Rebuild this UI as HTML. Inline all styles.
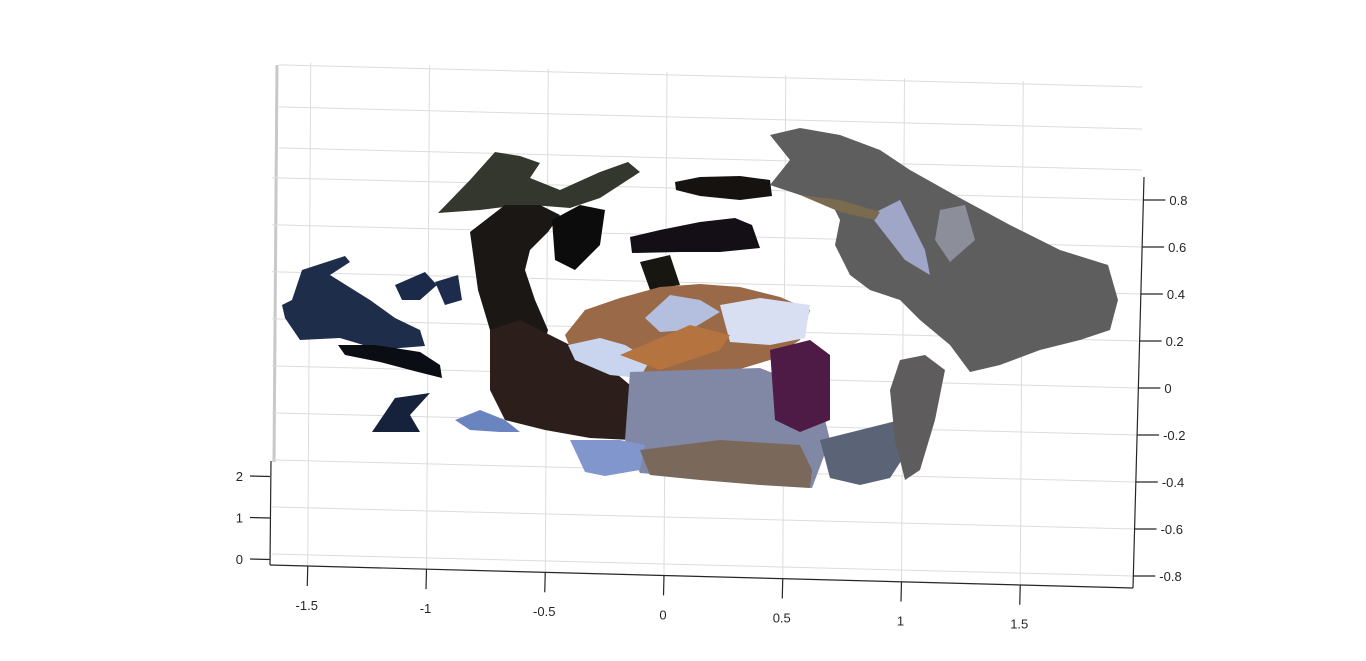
<!DOCTYPE html>
<html><head><meta charset="utf-8"><style>
html,body{margin:0;padding:0;background:#fff;}
svg{display:block;font-family:"Liberation Sans",sans-serif;}
</style></head><body>
<svg id="chart" width="1366" height="661" viewBox="0 0 1366 661">
<g id="grid"></g>
<g id="cloud">
  <!-- left navy cluster -->
  <polygon fill="#1e2d4a" points="302,270 345,256 350,262 330,275 370,300 395,318 420,330 425,346 400,348 380,350 340,338 300,340 285,318 282,305 292,300"/>
  <polygon fill="#0a0d14" points="338,345 375,345 420,352 440,365 442,378 418,372 380,362 345,355"/>
  <polygon fill="#1b2a48" points="395,285 425,272 437,285 420,300 402,300"/>
  <polygon fill="#1d2c4c" points="435,282 458,275 462,300 445,305"/>
  <polygon fill="#16223c" points="372,432 395,398 430,393 410,415 420,432"/>
  <!-- dark center-left structure -->
  <polygon fill="#34372e" points="438,213 470,180 495,152 520,156 540,163 530,178 560,190 600,172 628,162 640,172 600,198 570,208 545,206 520,205 480,210"/>
  <polygon fill="#1a1714" points="470,232 505,205 540,205 560,215 548,232 530,250 525,270 535,300 548,330 540,360 520,380 500,380 490,330 478,290"/>
  <polygon fill="#0c0c0c" points="552,220 580,205 605,210 600,245 575,270 555,260"/>
  <polygon fill="#2c1e1a" points="490,330 520,320 560,340 600,360 630,385 632,440 590,438 545,430 505,420 490,390"/>
  <polygon fill="#6a84c0" points="455,420 480,410 505,420 520,432 500,432 470,430"/>
  <!-- bands -->
  <polygon fill="#151210" points="675,182 700,177 740,176 770,180 772,196 740,200 700,196 676,190"/>
  <polygon fill="#140e16" points="630,237 660,230 700,222 735,218 752,225 760,248 720,252 680,252 632,253"/>
  <polygon fill="#181611" points="640,262 670,255 680,285 650,290"/>
  <!-- table -->
  <polygon fill="#9a6a48" points="565,335 585,310 620,298 660,287 700,284 740,287 780,297 810,310 800,340 770,360 730,372 690,378 650,378 610,372 575,360"/>
  <polygon fill="#c9d4ee" points="568,345 600,338 625,345 650,360 640,378 610,375 575,360"/>
  <polygon fill="#d8dff2" points="720,305 760,298 810,305 805,338 770,345 730,342"/>
  <polygon fill="#b4bfe0" points="645,318 670,295 700,300 720,312 690,330 660,332"/>
  <polygon fill="#b5733f" points="620,355 690,325 730,335 720,350 660,370"/>
  <!-- bottom gray-blue -->
  <polygon fill="#8088a6" points="630,372 690,370 760,368 790,380 820,400 830,440 812,488 760,484 700,478 640,473 625,440"/>
  <polygon fill="#8096cc" points="570,440 620,440 645,445 640,470 605,476 585,472"/>
  <polygon fill="#7a685a" points="640,450 720,440 800,445 812,470 810,488 760,485 700,480 650,475"/>
  <polygon fill="#4e1a46" points="770,350 810,340 830,355 830,420 800,432 775,420"/>
  <polygon fill="#5a6476" points="820,440 860,430 900,420 905,455 890,478 860,485 830,478"/>
  <!-- right plane -->
  <polygon fill="#5f5e5e" points="770,135 800,128 840,135 880,150 910,170 960,198 1010,225 1060,250 1108,265 1118,300 1110,330 1080,340 1040,350 1000,365 970,372 950,345 920,320 900,300 870,290 850,275 835,245 840,220 830,200 800,195 770,185 790,160"/>
  <polygon fill="#a0a6c8" points="870,215 900,200 925,250 930,275 905,260"/>
  <polygon fill="#8c8f99" points="940,210 965,205 975,240 950,262 935,240"/>
  <polygon fill="#5e5c5c" points="900,360 925,355 945,370 935,420 920,470 905,480 895,440 890,390"/>
  <polygon fill="#7a6a50" points="800,195 840,200 880,212 875,220 840,212"/>
</g>
<g id="axes"></g>
</svg>
<script>
const xTicks = [-1.5, -1, -0.5, 0, 0.5, 1, 1.5];
const xTickLabels = ["-1.5", "-1", "-0.5", "0", "0.5", "1", "1.5"];
const yTicks = [0.8, 0.6, 0.4, 0.2, 0, -0.2, -0.4, -0.6, -0.8];
const yTickLabels = ["0.8", "0.6", "0.4", "0.2", "0", "-0.2", "-0.4", "-0.6", "-0.8"];
const zTicks = [0, 1, 2];
const zTickLabels = ["0", "1", "2"];
const backGridRight = [87, 129, 170];

const NS = "http://www.w3.org/2000/svg";
function mk(tag, attrs, parent) {
  const e = document.createElementNS(NS, tag);
  for (const k in attrs) e.setAttribute(k, attrs[k]);
  parent.appendChild(e);
  return e;
}
// axis functions
function xPix(v) { return 664 + v * 237.5; }
function yPixRight(v) { return 388 - v * 235; }
function zPix(v) { return 559 - v * 41.5; }
function xAxisY(px) { return 565 + (px - 270) * 0.0263; }
function rightAxisX(py) { return 1144 - (py - 177) * 0.0268; }

const grid = document.getElementById('grid');
const axes = document.getElementById('axes');
const slope = 0.0256;
// left light gray wall line
const wl = mk('line', {x1: 277, y1: 65, x2: 274, y2: 462, stroke: '#c8c8c8', 'stroke-width': 3}, grid);


// horizontal grid from y ticks
yTicks.forEach(function (v) {
  const yr = yPixRight(v);
  const xr = rightAxisX(yr);
  const l = mk('line', {x1: 272, y1: yr - (xr - 272) * slope, x2: xr, y2: yr, stroke: '#dcdcdc', 'stroke-width': 1}, grid);
  
  
});
backGridRight.forEach(function (yr) {
  const l = mk('line', {x1: 279, y1: yr - (1142 - 279) * slope, x2: 1142, y2: yr, stroke: '#dcdcdc', 'stroke-width': 1}, grid);
  
  
});
// vertical grid
xTicks.forEach(function (v) {
  const xb = xPix(v);
  const l = mk('line', {x1: xb + 3, y1: 62 + (xb - 282) * 0.026, x2: xb, y2: xAxisY(xb), stroke: '#dcdcdc', 'stroke-width': 1}, grid);
  
  
});
// bottom x axis
const xa = mk('line', {x1: 270, y1: 565, x2: 1133, y2: 588, stroke: '#262626', 'stroke-width': 1.2}, axes);


xTicks.forEach(function (v, i) {
  const x = xPix(v);
  const y = xAxisY(x);
  const t = mk('line', {x1: x, y1: y, x2: x - 0.5, y2: y + 20, stroke: '#262626', 'stroke-width': 1.2}, axes);
  
  
  const tx = mk('text', {x: x - 1, y: y + 44, 'text-anchor': 'middle', 'font-size': 13, fill: '#262626'}, axes);
  tx.textContent = xTickLabels[i];
  
  
});
// right y axis
const ya = mk('line', {x1: 1144, y1: 177, x2: 1133, y2: 588, stroke: '#262626', 'stroke-width': 1.2}, axes);


yTicks.forEach(function (v, i) {
  const y = yPixRight(v);
  const x = rightAxisX(y);
  const t = mk('line', {x1: x, y1: y, x2: x + 22, y2: y, stroke: '#262626', 'stroke-width': 1.2}, axes);
  
  
  const tx = mk('text', {x: x + 26, y: y + 5, 'font-size': 13, fill: '#262626'}, axes);
  tx.textContent = yTickLabels[i];
  
  
});
// left z axis
const za = mk('line', {x1: 271, y1: 461, x2: 270, y2: 565, stroke: '#262626', 'stroke-width': 1.2}, axes);


zTicks.forEach(function (v, i) {
  const y = zPix(v);
  const t = mk('line', {x1: 270, y1: y + 0.5, x2: 250, y2: y, stroke: '#262626', 'stroke-width': 1.2}, axes);
  
  
  const tx = mk('text', {x: 243, y: y + 5, 'text-anchor': 'end', 'font-size': 13, fill: '#262626'}, axes);
  tx.textContent = zTickLabels[i];
  
  
});
</script>
</body></html>
